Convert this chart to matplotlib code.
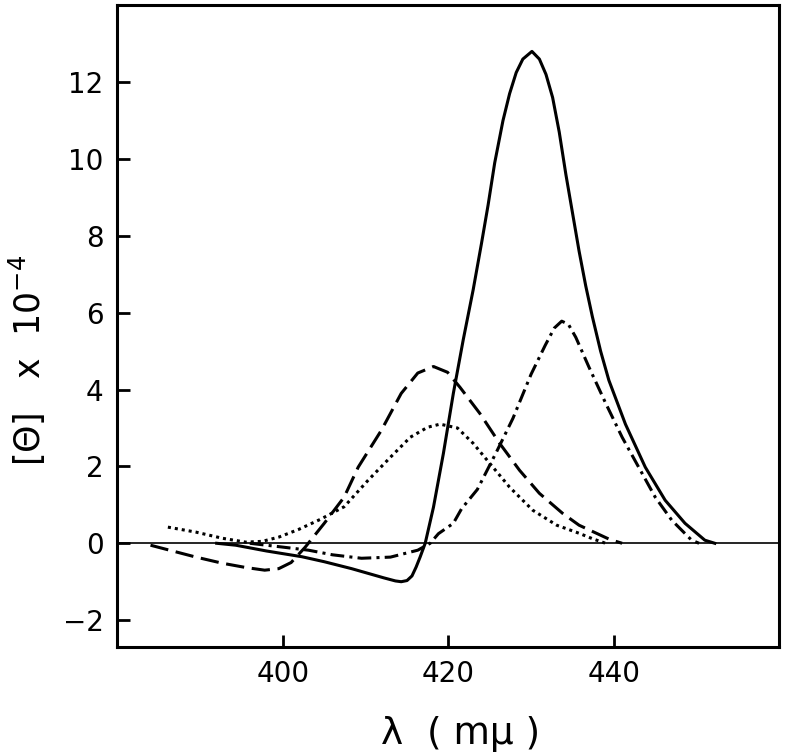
import matplotlib
matplotlib.use("Agg")
import matplotlib.pyplot as plt

# ---- data ----
solid_x = [392, 394.3, 398, 402.3, 405, 408.3, 412.2, 413.6, 414.3, 415.0, 415.6,
           416.1, 416.6, 417.2, 418.2, 419.4, 420.6, 421.8, 423.0, 424.0, 424.8,
           425.6, 426.6, 427.4, 428.2, 429.0, 430.1, 431.0, 431.8, 432.6, 433.4,
           434.2, 435.0, 435.8, 436.6, 437.4, 438.4, 439.4, 441.4, 443.8, 446.2,
           448.6, 451.0, 452.2]
solid_y = [0, -0.05, -0.2, -0.35, -0.48, -0.66, -0.9, -0.98, -1.0, -0.97, -0.85,
           -0.62, -0.35, 0, 0.94, 2.34, 3.9, 5.3, 6.6, 7.8, 8.8,
           9.9, 11.0, 11.7, 12.25, 12.6, 12.8, 12.6, 12.2, 11.6, 10.7,
           9.6, 8.6, 7.6, 6.7, 5.9, 5.0, 4.24, 3.1, 1.98, 1.12,
           0.52, 0.08, 0]

dashed_x = [384, 386.3, 389.5, 392.7, 395.5, 397.8, 399.5, 401, 402.7, 405,
            407.4, 409.1, 411.9, 414.3, 416.3, 418.2, 419.9, 421.4, 423.8,
            426.2, 428.6, 431, 433.8, 435.8, 438, 439.5, 441]
dashed_y = [-0.05, -0.18, -0.36, -0.52, -0.63, -0.7, -0.66, -0.5, -0.1, 0.52,
            1.2, 1.98, 2.94, 3.9, 4.43, 4.6, 4.45, 4.06, 3.38,
            2.6, 1.9, 1.3, 0.78, 0.47, 0.25, 0.1, 0]

dotted_x = [386.1, 389.5, 392.7, 395.5, 397.5, 399.5, 401.9, 404.5, 407.4, 410.3,
            413, 415.4, 417.5, 419, 421.1, 423, 425, 427.4, 430.2, 433.1,
            435.8, 437.4, 439]
dotted_y = [0.42, 0.29, 0.13, 0.03, 0.05, 0.16, 0.36, 0.62, 0.95, 1.64,
            2.24, 2.76, 3.02, 3.1, 3.0, 2.6, 2.08, 1.46, 0.86, 0.47,
            0.26, 0.12, 0.0]

dashdot_x = [396, 400, 403.1, 406, 409.5, 413, 416.3, 417.8, 418.8, 420.6, 421.6,
             423.5, 425.8, 427.8, 430.0, 431.7, 432.8, 433.7, 434.5, 435.4,
             437.0, 439.0, 441.0, 443.0, 445.0, 447.0, 449.4, 450.3]
dashdot_y = [0, -0.1, -0.18, -0.3, -0.39, -0.36, -0.18, 0, 0.25, 0.52, 0.9,
             1.4, 2.37, 3.25, 4.4, 5.15, 5.6, 5.78, 5.7, 5.36,
             4.58, 3.65, 2.76, 1.98, 1.2, 0.6, 0.08, 0]

x_ticks = [400, 420, 440]
y_ticks = [-2, 0, 2, 4, 6, 8, 10, 12]

# ---- figure ----
fig = plt.figure(figsize=(7.88, 7.55), dpi=100)
ax = fig.add_axes([0.149, 0.143, 0.840, 0.850])

lw = 2.2
ax.axhline(0, color="black", lw=1.2, zorder=1)
ax.plot(solid_x, solid_y, color="black", lw=lw, solid_joinstyle="round")
ax.plot(dashed_x, dashed_y, color="black", lw=lw, linestyle=(0, (6, 2.5)))
ax.plot(dotted_x, dotted_y, color="black", lw=lw, linestyle=(0, (1, 1.3)))
ax.plot(dashdot_x, dashdot_y, color="black", lw=lw,
        linestyle=(0, (4.5, 1.7, 1, 1.7)))

ax.set_xlim(380, 460)
ax.set_ylim(-2.7, 14.0)
ax.set_xticks(x_ticks)
ax.set_yticks(y_ticks)
ax.set_yticklabels(["\u22122" if v == -2 else str(v) for v in y_ticks])

for s in ax.spines.values():
    s.set_linewidth(2.2)
ax.tick_params(direction="in", length=9, width=2, labelsize=20)
ax.tick_params(axis="x", pad=9)
ax.tick_params(axis="y", pad=10)

fig.text(0.584, 0.028, "\u03bb  ( m\u03bc )", ha="center", va="center", fontsize=27)
fig.text(0.035, 0.523, "[\u0398]   x  10$^{-4}$", ha="center", va="center",
         rotation=90, fontsize=25)

fig.savefig("out.png", dpi=100)
